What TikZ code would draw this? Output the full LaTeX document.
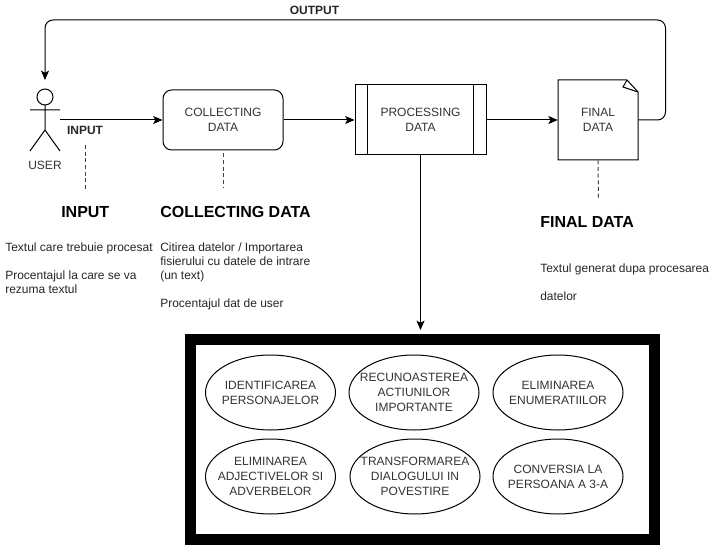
\documentclass[tikz,border=0pt]{standalone}
\usepackage{fontspec}
\setmainfont{Liberation Sans}
\usetikzlibrary{shapes.geometric, positioning, arrows.meta}

\tikzset{
    line/.style={draw=black, line width=0.75pt},
    flow/.style={line, -{Stealth[length=7pt, width=6pt, inset=1.5pt]}},
    note/.style={line, densely dashed, draw=black!75},
    boxtext/.style={align=center, font=\fontsize{9}{11.25}\selectfont, text=black!80},
    stepbox/.style={boxtext, line, minimum width=#1, minimum height=45pt, inner sep=0pt},
    task/.style={boxtext, ellipse, line, minimum width=97.5pt, minimum height=56.25pt, inner xsep=-30pt, inner ysep=-20pt},
    heading/.style={anchor=west, inner sep=0pt, font=\fontsize{12}{14}\bfseries\selectfont},
    body/.style={anchor=north west, inner sep=0pt, align=left, text=black!85, font=\fontsize{9}{10.5}\selectfont},
    tag/.style={inner sep=0pt, text=black!85, font=\fontsize{9}{10}\bfseries\selectfont}
}

\begin{document}
\begin{tikzpicture}[x=0.75pt, y=-0.75pt]
    \useasboundingbox (0,0) rectangle (716,545);

    % User figure
    \draw[line] (45,97) circle (8);
    \draw[line] (45,105) -- (45,130) (30,110) -- (60,110) (30,151) -- (45,130) -- (60,151);
    \node[boxtext] (user) at (45,165) {USER};
    \coordinate (userhand) at (60,120);
    \coordinate (userhead) at (45,80);

    % Main steps
    \node[stepbox=90pt, minimum height=45pt, rounded corners=6.5pt] (collect) at (223,120) {COLLECTING\\DATA};
    \node[stepbox=98.25pt, minimum height=52.5pt] (process) at (420.5,120) {PROCESSING\\DATA};
    \draw[line] ([xshift=9.75pt]process.north west) -- ([xshift=9.75pt]process.south west);
    \draw[line] ([xshift=-9.75pt]process.north east) -- ([xshift=-9.75pt]process.south east);
    \node[boxtext, minimum width=60pt, minimum height=60pt, inner sep=0pt] (final) at (598,120) {FINAL\\DATA};
    \draw[line] (558,80) -- (627,80) -- (638,92) -- (638,160) -- (558,160) -- cycle;
    \draw[line] (627,80) -- (623,87) -- (638,92);

    % Connectors
    \draw[flow] (userhand) -- (collect.west);
    \draw[flow] (collect.east) -- (process.west);
    \draw[flow] (process.east) -- (final.west);
    \coordinate (backright) at (665.5,120);
    \coordinate (backtop) at (665.5,20);
    \coordinate (backleft) at (45,20);
    \draw[flow, rounded corners=6pt] (final.east) -- (backright) -- (backtop) -- (backleft) -- (userhead);
    \node[tag] (outlabel) at (314.5,10) {OUTPUT};
    \node[tag] (inlabel) at (85,130.5) {INPUT};

    % Dashed notes
    \coordinate (inputend) at (85,191);
    \coordinate (collectend) at (223,187);
    \coordinate (finalend) at (598.5,200);
    \draw[note] (85,145) -- (inputend);
    \draw[note] ([yshift=-2.25pt]collect.south) -- (collectend);
    \draw[note] (final.south) -- (finalend);

    % Input text
    \node[heading] (inputhead) at (61,212) {INPUT};
    \node[body] (inputtext) at (5,242.5) {Textul care trebuie procesat\\[10.5pt]Procentajul la care se va\\rezuma textul};

    % Collecting text
    \node[heading] (collecthead) at (160,212) {COLLECTING DATA};
    \node[body] (collecttext) at (160,242.5) {Citirea datelor / Importarea\\fisierului cu datele de intrare\\(un text)\\[10.5pt]Procentajul dat de user};

    % Final text
    \node[heading] (finalhead) at (540,222) {FINAL DATA};
    \node[body] (finaltext) at (540,264) {Textul generat dupa procesarea\\[10.5pt]datelor};

    % Frame with tasks
    \node[line, line width=8.25pt, minimum width=348pt, minimum height=150pt, inner sep=0pt] (frame) at (422.5,439.5) {};
    \draw[flow] (process.south) -- (420.5,330);

    \node[task] (taska) at (270.5,392.5) {IDENTIFICAREA\\PERSONAJELOR};
    \node[task] (taskb) at (414,392.5) {RECUNOASTEREA\\ACTIUNILOR\\IMPORTANTE};
    \node[task] (taskc) at (558,392.5) {ELIMINAREA\\ENUMERATIILOR};
    \node[task] (taskd) at (270.5,476.5) {ELIMINAREA\\ADJECTIVELOR SI\\ADVERBELOR};
    \node[task] (taske) at (415,476.5) {TRANSFORMAREA\\DIALOGULUI IN\\POVESTIRE};
    \node[task] (taskf) at (558,476.5) {CONVERSIA LA\\PERSOANA A 3-A};
\end{tikzpicture}
\end{document}
